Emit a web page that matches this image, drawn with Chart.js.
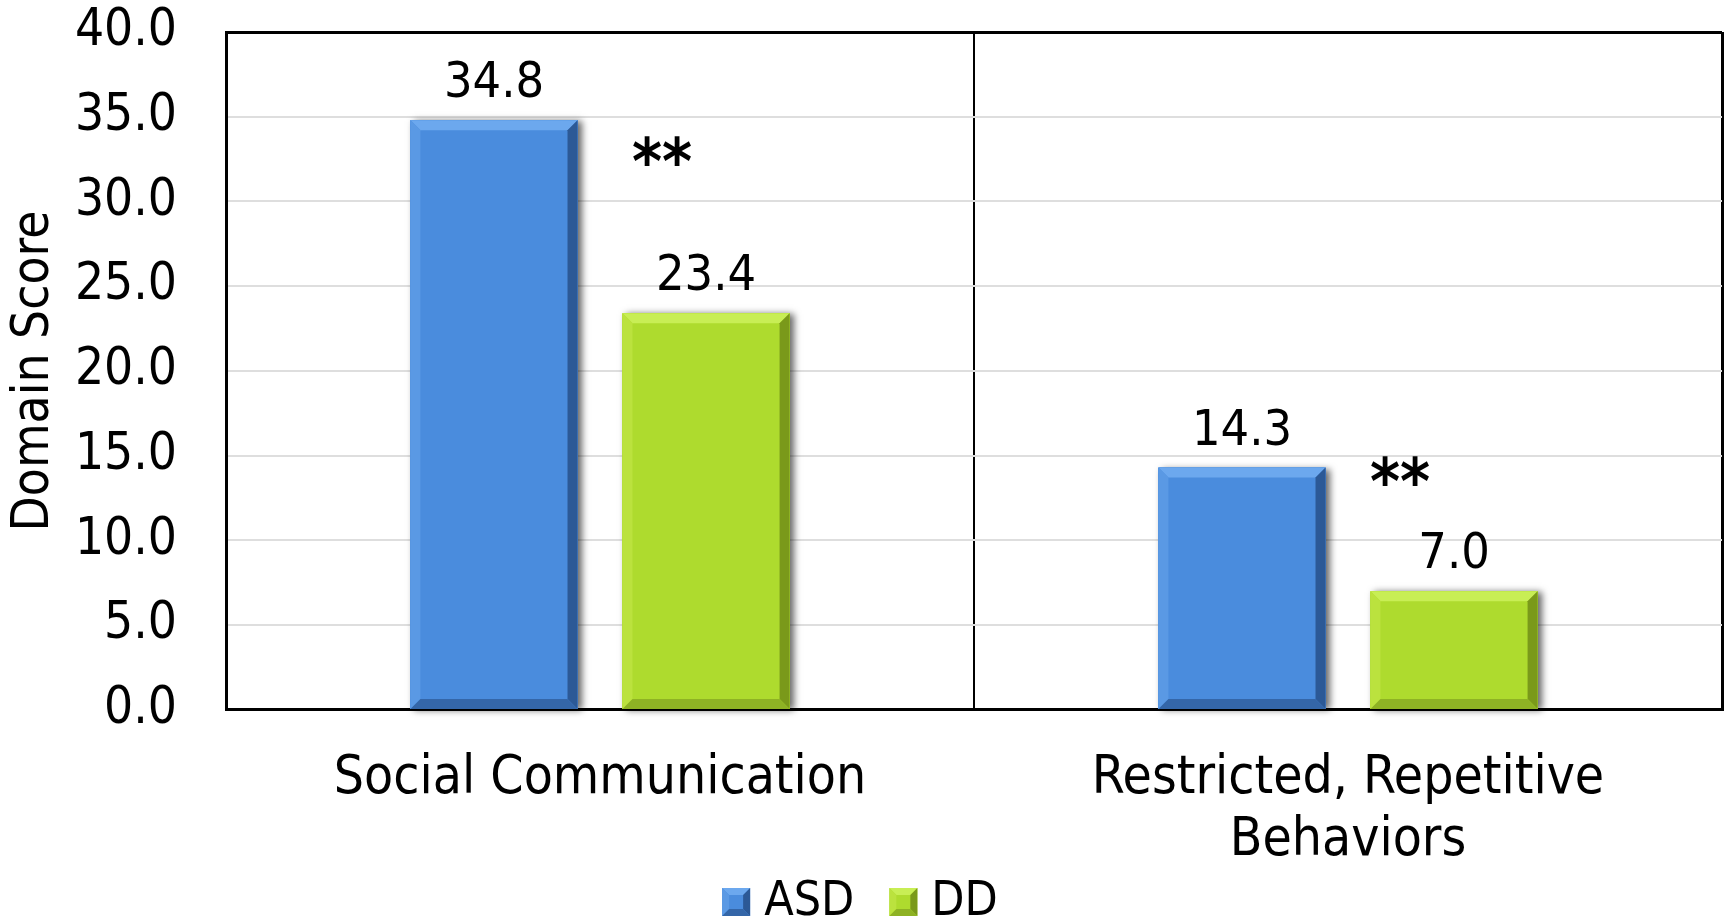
<!DOCTYPE html>
<html>
<head>
<meta charset="utf-8">
<title>Domain Score by Group</title>
<script src="https://cdn.jsdelivr.net/npm/chart.js@4/dist/chart.umd.min.js"></script>
<style>
  html, body { margin: 0; padding: 0; background: #ffffff; }
  #wrap { width: 1730px; height: 922px; }
</style>
</head>
<body>
<div id="wrap"><canvas id="chart" width="1730" height="922"></canvas></div>
<script>
// Domains (x categories), group means, and axis ticks
const categories = [['Social Communication'], ['Restricted, Repetitive', 'Behaviors']];
const groupNames = ['ASD', 'DD'];
const asdScores = [34.8, 14.3];
const ddScores = [23.4, 7.0];
const yTickValues = [0, 5, 10, 15, 20, 25, 30, 35, 40];
const significance = ['**', '**'];

const FONT = "'DejaVu Sans Condensed', 'DejaVu Sans', sans-serif";

// Face / bevel palette for each group
const palettes = [
  { face: '#4A8CDD', top: '#6CA8EE', left: '#5A99E4', right: '#2C5996', bottom: '#3466A8' },
  { face: '#AEDB2E', top: '#C8EE55', left: '#BBE23E', right: '#7A991A', bottom: '#8EB224' }
];

function bevelRect(ctx, L, T, R, B, b, pal) {
  ctx.fillStyle = pal.face;
  ctx.fillRect(L, T, R - L, B - T);
  const poly = (pts, color) => {
    ctx.beginPath();
    ctx.moveTo(pts[0][0], pts[0][1]);
    for (let i = 1; i < pts.length; i++) ctx.lineTo(pts[i][0], pts[i][1]);
    ctx.closePath();
    ctx.fillStyle = color;
    ctx.fill();
  };
  poly([[L, T], [R, T], [R - b, T + b], [L + b, T + b]], pal.top);
  poly([[L, T], [L + b, T + b], [L + b, B - b], [L, B]], pal.left);
  poly([[R, T], [R, B], [R - b, B - b], [R - b, T + b]], pal.right);
  poly([[L, B], [R, B], [R - b, B - b], [L + b, B - b]], pal.bottom);
}

// Soft drop shadow behind each bar
const barShadow = {
  id: 'barShadow',
  beforeDatasetsDraw(chart) {
    const ctx = chart.ctx;
    chart.data.datasets.forEach((ds, di) => {
      const meta = chart.getDatasetMeta(di);
      meta.data.forEach(el => {
        const { x, y, base, width } = el.getProps(['x', 'y', 'base', 'width'], true);
        ctx.save();
        ctx.shadowColor = 'rgba(0,0,0,0.6)';
        ctx.shadowBlur = 7;
        ctx.shadowOffsetX = 4;
        ctx.shadowOffsetY = 1;
        ctx.fillStyle = palettes[di].face;
        ctx.fillRect(x - width / 2, y, width, base - y);
        ctx.restore();
      });
    });
  }
};

// Bevelled faces plus value labels above each bar
const barDecor = {
  id: 'barDecor',
  afterDatasetsDraw(chart) {
    const ctx = chart.ctx;
    chart.data.datasets.forEach((ds, di) => {
      const meta = chart.getDatasetMeta(di);
      meta.data.forEach((el, i) => {
        const { x, y, base, width } = el.getProps(['x', 'y', 'base', 'width'], true);
        bevelRect(ctx, x - width / 2, y, x + width / 2, base, 10, palettes[di]);
        ctx.save();
        ctx.fillStyle = '#000';
        ctx.font = '50px ' + FONT;
        ctx.textAlign = 'center';
        ctx.textBaseline = 'alphabetic';
        ctx.fillText(ds.data[i].toFixed(1), x, y - 23);
        ctx.restore();
      });
    });
  }
};

// Significance markers between the two bars of each domain
const sigMarks = {
  id: 'sigMarks',
  afterDatasetsDraw(chart, args, opts) {
    const ctx = chart.ctx;
    const xs = chart.scales.x, ys = chart.scales.y;
    ctx.save();
    ctx.fillStyle = '#000';
    ctx.font = 'bold 64px ' + FONT;
    ctx.textAlign = 'center';
    ctx.textBaseline = 'middle';
    opts.marks.forEach((m, i) => {
      const cx = xs.getPixelForValue(i) + opts.dx[i];
      const cy = ys.getPixelForValue(opts.level[i]);
      ctx.fillText(m, cx, cy + 10);
    });
    ctx.restore();
  }
};

// Legend drawn along the bottom with bevelled swatches
const bottomLegend = {
  id: 'bottomLegend',
  afterDraw(chart) {
    const ctx = chart.ctx;
    const box = 28, gapText = 14, gapItem = 35;
    ctx.save();
    ctx.font = '48px ' + FONT;
    const items = chart.data.datasets.map((ds, di) => ({ label: ds.label, w: ctx.measureText(ds.label).width, pal: palettes[di] }));
    const total = items.reduce((s, it) => s + box + gapText + it.w, 0) + gapItem * (items.length - 1);
    let x = chart.width / 2 - total / 2 - 5;
    const cy = 902;
    items.forEach(it => {
      bevelRect(ctx, x, cy - box / 2, x + box, cy + box / 2, 7, it.pal);
      ctx.fillStyle = '#000';
      ctx.textAlign = 'left';
      ctx.textBaseline = 'middle';
      ctx.fillText(it.label, x + box + gapText, cy + 1);
      x += box + gapText + it.w + gapItem;
    });
    ctx.restore();
  }
};

new Chart(document.getElementById('chart'), {
  type: 'bar',
  data: {
    labels: categories,
    datasets: [
      { label: groupNames[0], data: asdScores, backgroundColor: palettes[0].face, borderWidth: 0 },
      { label: groupNames[1], data: ddScores, backgroundColor: palettes[1].face, borderWidth: 0 }
    ]
  },
  plugins: [barShadow, barDecor, sigMarks, bottomLegend],
  options: {
    responsive: false,
    devicePixelRatio: 1,
    animation: false,
    layout: { padding: { top: 32, right: 8, bottom: 12, left: 0 } },
    datasets: { bar: { categoryPercentage: 0.567, barPercentage: 0.788 } },
    plugins: {
      legend: { display: false },
      tooltip: { enabled: false },
      sigMarks: { marks: significance, level: [32.6, 13.7], dx: [62, 52] }
    },
    scales: {
      x: {
        grid: {
          offset: true,
          drawTicks: false,
          color: '#000',
          lineWidth: (c) => (c.index === 1 ? 2 : 3)
        },
        border: { display: true, color: '#000', width: 3 },
        ticks: {
          color: '#000',
          padding: 38,
          font: { family: FONT, size: 53, lineHeight: 1.17 },
          maxRotation: 0
        }
      },
      y: {
        min: 0,
        max: 40,
        afterBuildTicks: (scale) => { scale.ticks = yTickValues.map(v => ({ value: v })); },
        afterFit: (scale) => {
          scale.width = 226;
          scale.paddingTop = 20;
          scale.paddingBottom = 20;
        },
        grid: {
          drawTicks: false,
          color: (c) => (c.tick && c.tick.value === 40 ? '#000' : '#DEDEDE'),
          lineWidth: (c) => (c.tick && c.tick.value === 40 ? 3 : 2)
        },
        border: { display: true, color: '#000', width: 3 },
        ticks: {
          color: '#000',
          padding: 49,
          font: { family: FONT, size: 51 },
          callback: (v) => Number(v).toFixed(1)
        },
        title: {
          display: true,
          text: 'Domain Score',
          color: '#000',
          font: { family: FONT, size: 51 },
          padding: { top: 4, bottom: 0 }
        }
      }
    }
  }
});
</script>
</body>
</html>
